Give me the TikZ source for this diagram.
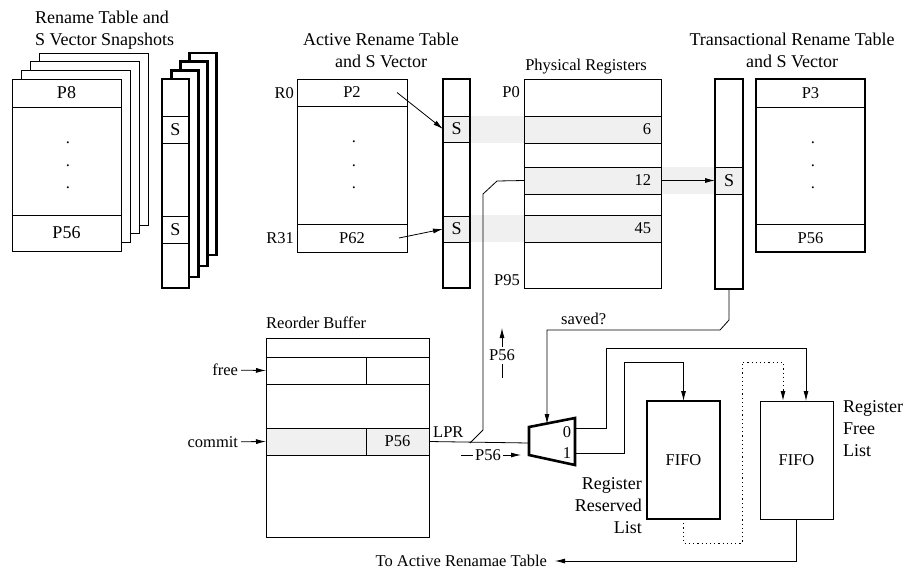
\documentclass[tikz,border=0pt]{standalone}
\usepackage{fontspec}
\setmainfont{Liberation Serif}
\usetikzlibrary{arrows.meta}

\begin{document}
\begin{tikzpicture}[x=1pt,y=-1pt,font=\fontsize{16.5}{20}\selectfont]
\tikzset{
  box/.style={draw,line width=0.8pt,inner sep=0pt,outer sep=0pt,anchor=north west},
  heavy/.style={box,line width=2.6pt},
  txt/.style={inner sep=0pt},
  big/.style={font=\fontsize{18}{22}\selectfont},
  band/.style={fill=black!6},
  arr/.style={line width=0.8pt,-{Latex[length=10pt,width=5pt]}},
}
\useasboundingbox (0,0) rectangle (907,571);

\fill[band] (470,116) rectangle (524,143);
\fill[band] (470,215) rectangle (524,242);
\fill[band] (661,167) rectangle (715,194);

\foreach \k in {3,2,1} {
  \node[box,fill=white,minimum width=109pt,minimum height=172pt] (snapBack\k) at (12+9.2*\k,79-8.7*\k) {};
  \node[heavy,fill=white,minimum width=27pt,minimum height={209-2.3*\k}] (snapSBack\k) at (162+9.2*\k,79-8.7*\k) {};
}
\node[box,fill=white,minimum width=109pt,minimum height=172pt] (snap) at (12,79) {};
\node[box,big,minimum width=109pt,minimum height=28pt] (snapP8) at (12,79) {P8};
\node[box,big,minimum width=109pt,minimum height=36pt] (snapP56) at (12,215) {P56};
\foreach \y in {143,166,188} \node[txt] (snapDot\y) at (68,\y) {.};
\node[heavy,fill=white,minimum width=27pt,minimum height=209pt] (snapS) at (162,79) {};
\node[box,big,minimum width=27pt,minimum height=27pt] (snapSa) at (162,116) {S};
\node[box,big,minimum width=27pt,minimum height=27pt] (snapSb) at (162,216) {S};

\node[txt,big,anchor=base west] (snapT1) at (35,23) {Rename Table and};
\node[txt,big,anchor=base west] (snapT2) at (35,45) {S Vector Snapshots};

\node[box,minimum width=110pt,minimum height=173pt] (act) at (297,79) {};
\node[box,minimum width=110pt,minimum height=27pt] (actP2) at (297,79) {P2};
\node[box,minimum width=110pt,minimum height=28pt] (actP62) at (297,224) {P62};
\foreach \y in {142,166,188} \node[txt] (actDot\y) at (354,\y) {.};
\node[txt,anchor=east] (r0) at (294,93) {R0};
\node[txt,anchor=east] (r31) at (294,238) {R31};
\node[box,big,band,minimum width=27pt,minimum height=26pt] (actSa) at (443,116) {S};
\node[box,big,band,minimum width=27pt,minimum height=26pt] (actSb) at (443,216) {S};
\node[heavy,minimum width=27pt,minimum height=209pt] (actS) at (443,79) {};

\node[txt,big,anchor=base] (actT1) at (381,45) {Active Rename Table};
\node[txt,big,anchor=base] (actT2) at (381,67) {and S Vector};

\draw[arr] ([xshift=-10pt]actP2.east) -- (actSa.west);
\draw[arr] ([xshift=-8pt]actP62.east) -- (actSb.west);

\node[box,minimum width=137pt,minimum height=209pt] (phys) at (524,79) {};
\node[box,band,minimum width=137pt,minimum height=27pt,text width=117pt,align=right] (reg6) at (524,116) {6};
\node[box,band,minimum width=137pt,minimum height=27pt,text width=117pt,align=right] (reg12) at (524,167) {12};
\node[box,band,minimum width=137pt,minimum height=27pt,text width=117pt,align=right] (reg45) at (524,215) {45};
\node[txt,anchor=east] (p0) at (520,92) {P0};
\node[txt,anchor=east] (p95) at (520,280) {P95};
\node[txt,anchor=base] (physT) at (586,70) {Physical Registers};

\node[box,big,band,minimum width=28pt,minimum height=27pt] (trSa) at (715,167) {S};
\node[heavy,minimum width=28pt,minimum height=210pt] (trS) at (715,79) {};
\node[box,minimum width=109pt,minimum height=28pt] (trP3) at (756,79) {P3};
\node[box,minimum width=109pt,minimum height=28pt] (trP56) at (756,224) {P56};
\foreach \y in {143,166,188} \node[txt] (trDot\y) at (813,\y) {.};
\node[heavy,minimum width=109pt,minimum height=173pt] (tr) at (756,79) {};
\node[txt,big,anchor=base] (trT1) at (792,45) {Transactional Rename Table};
\node[txt,big,anchor=base] (trT2) at (792,67) {and S Vector};

\draw[arr] (reg12.east) -- (trSa.west);

\node[box,minimum width=163pt,minimum height=199pt] (rob) at (266,338) {};
\node[box,minimum width=100pt,minimum height=27pt] (robFree) at (266,357) {};
\node[box,minimum width=63pt,minimum height=27pt] (robFreeR) at (366,357) {};
\node[box,band,minimum width=100pt,minimum height=27pt] (robCommit) at (266,428) {};
\node[box,band,minimum width=63pt,minimum height=27pt] (robCommitR) at (366,428) {P56};
\node[txt,anchor=base west] (robT) at (266,328) {Reorder Buffer};
\node[txt,anchor=east,outer xsep=3pt] (free) at (241,370) {free};
\node[txt,anchor=east,outer xsep=3pt] (commit) at (241,442) {commit};
\draw[arr] (free) -- (robFree.west);
\draw[arr] (commit) -- (robCommit.west);

\draw[line width=2.6pt,line join=miter] (529,427) -- (575,418) -- (575,465) -- (529,455) -- cycle;
\coordinate (muxIn) at (529,443);
\coordinate (muxTop) at (547,424);
\coordinate (mux0) at (575,428);
\coordinate (mux1) at (575,453);
\node[txt] (mux0l) at (567,432) {0};
\node[txt] (mux1l) at (567,453) {1};

\coordinate (lprJ) at (470,443);
\draw[line width=0.8pt] (robCommitR.east) -- (muxIn);
\draw[line width=0.8pt] (lprJ) -- ++(13,-13) -- ++(0,-236) -- ++(14,-13) -- (reg12.west);
\node[txt,anchor=base west] (lpr) at (433,437) {LPR};

\coordinate (p56h) at (461,455);
\coordinate (p56hEnd) at (521,455);
\draw[arr] (p56h) -- node[txt,fill=white,inner xsep=2pt,pos=0.45] (p56hl) {P56} (p56hEnd);
\coordinate (p56v) at (502,378);
\coordinate (p56vEnd) at (502,328);
\draw[arr] (p56v) -- node[txt,fill=white,inner ysep=3pt,pos=0.45] (p56vl) {P56} (p56vEnd);

\draw[arr] (trS.south) -- ++(0,31) -- ++(-9,10) -- (547,330) -- (muxTop);
\node[txt,anchor=base west] (saved) at (561,324) {saved?};

\node[heavy,minimum width=73pt,minimum height=118pt] (resFifo) at (647,401) {FIFO};
\node[box,minimum width=73pt,minimum height=118pt] (freeFifo) at (760,401) {FIFO};
\coordinate (freeIn) at (806,401);
\coordinate (dotIn) at (783,401);

\draw[arr] (mux0) -| (606,348) -| (freeIn);
\draw[arr] (mux1) -| (624,362) -| (resFifo.north);
\draw[arr,line width=1pt,dash pattern=on 1.2pt off 3pt] (resFifo.south) |- (742,543) -- (742,362) -| (dotIn);

\node[txt,anchor=east,outer xsep=8pt] (toAct) at (555,561) {To Active Renamae Table};
\draw[arr] (freeFifo.south) |- (toAct.east);

\node[txt,big,anchor=base east] (resL1) at (642,489) {Register};
\node[txt,big,anchor=base east] (resL2) at (642,511) {Reserved};
\node[txt,big,anchor=base east] (resL3) at (642,533) {List};
\node[txt,big,anchor=base west] (freeL1) at (843,412) {Register};
\node[txt,big,anchor=base west] (freeL2) at (843,434) {Free};
\node[txt,big,anchor=base west] (freeL3) at (843,456) {List};

\end{tikzpicture}
\end{document}
